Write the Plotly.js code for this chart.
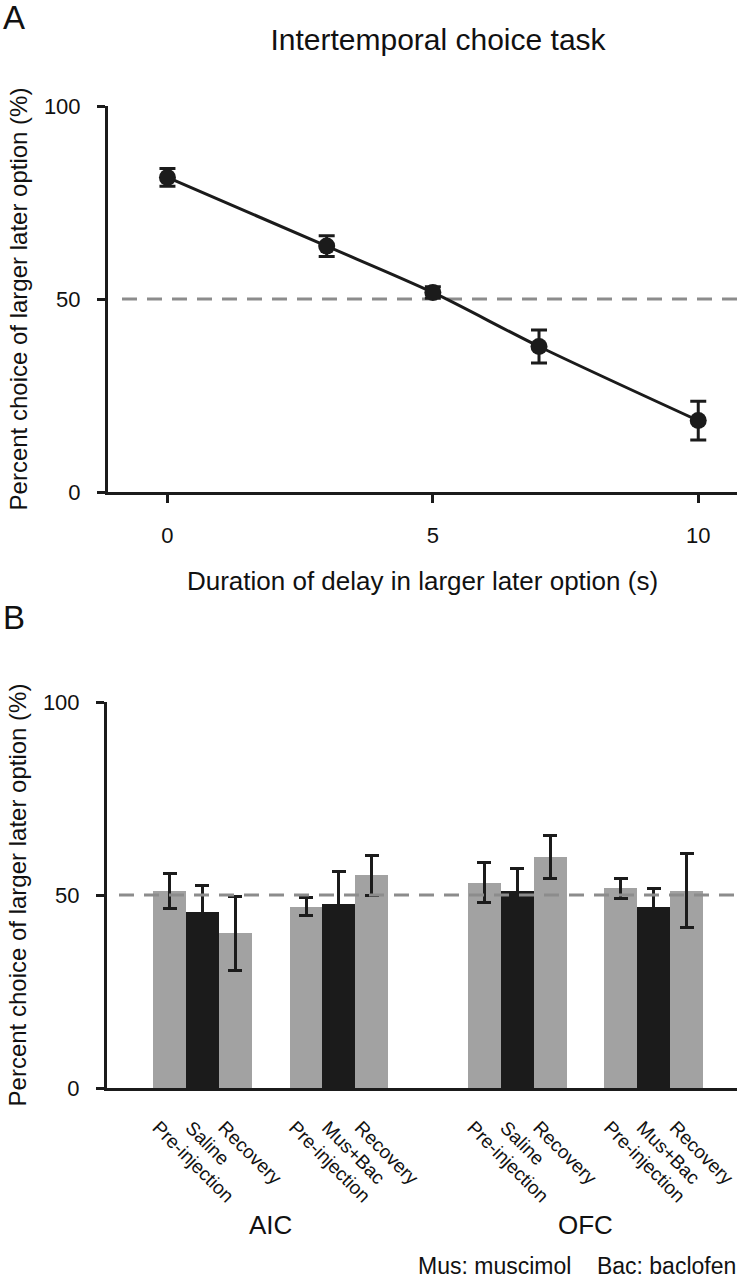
<!DOCTYPE html>
<html>
<head>
<meta charset="utf-8">
<script src="https://cdn.plot.ly/plotly-3.0.1.min.js"></script>
<style>html,body{margin:0;padding:0;background:#fff;}#chart{width:739px;height:1280px;}</style>
</head>
<body>
<div id="chart"></div>
<script>
// Panel A data
const delays = [0, 3, 5, 7, 10];
const choiceMean = [81.5, 63.7, 51.7, 37.7, 18.5];
const choiceErr = [2.3, 2.7, 1.5, 4.3, 5.0];
const delayTicks = [0, 5, 10];

// Panel B data
const regionLabels = ['AIC', 'OFC'];
const condLabels = [
  ['Pre-injection', 'Saline', 'Recovery'],
  ['Pre-injection', 'Mus+Bac', 'Recovery'],
  ['Pre-injection', 'Saline', 'Recovery'],
  ['Pre-injection', 'Mus+Bac', 'Recovery']
];
const barMeans = [
  [51.1, 45.6, 40.1],
  [47.0, 47.6, 55.1],
  [53.2, 51.1, 59.9],
  [51.7, 47.0, 51.1]
];
const barErrs = [
  [4.5, 6.8, 9.6],
  [2.4, 8.4, 5.1],
  [5.1, 5.8, 5.5],
  [2.7, 4.8, 9.6]
];
const yTicks = [0, 50, 100];
const footnote = 'Mus: muscimol\u00a0\u00a0\u00a0\u00a0Bac: baclofen';

const FONT = 'Liberation Sans, Arial, Helvetica, sans-serif';
const GRAY = '#a2a2a2', BLACK = '#1b1b1b', DASH = '#8c8c8c', TXT = '#111';
const W = 739, H = 1280;
const px = v => v / W;
const py = v => 1 - v / H;

// group placement (layout)
const groupStart = [0, 4.15, 9.57, 13.72];
const LABEL_SHIFT = -0.35;
const xs = [], ys = [], es = [], cols = [], tlab = [], tpos = [];
groupStart.forEach((g, gi) => {
  for (let i = 0; i < 3; i++) {
    xs.push(g + i);
    tpos.push(g + i + LABEL_SHIFT);
    ys.push(barMeans[gi][i]);
    es.push(barErrs[gi][i]);
    cols.push(i === 1 ? BLACK : GRAY);
    tlab.push(condLabels[gi][i]);
  }
});

const traces = [
  {
    x: delays, y: choiceMean, type: 'scatter', mode: 'lines',
    line: {color: BLACK, width: 3, shape: 'spline', smoothing: 0.8},
    xaxis: 'x', yaxis: 'y', hoverinfo: 'skip', showlegend: false
  },
  {
    x: delays, y: choiceMean, type: 'scatter', mode: 'markers',
    marker: {color: BLACK, size: 17},
    error_y: {type: 'data', array: choiceErr, visible: true, color: BLACK, thickness: 3, width: 8},
    xaxis: 'x', yaxis: 'y', showlegend: false
  },
  {
    x: xs, y: ys, type: 'bar', width: 1,
    marker: {color: cols, line: {width: 0}},
    error_y: {type: 'data', array: es, visible: true, color: BLACK, thickness: 3, width: 7},
    xaxis: 'x2', yaxis: 'y2', showlegend: false
  }
];

const axisCommon = {
  showgrid: false, zeroline: false, showline: true, linecolor: BLACK, linewidth: 3,
  ticks: 'outside', ticklen: 8, tickwidth: 3, tickcolor: BLACK,
  ticklabeloverflow: 'allow',
  tickfont: {family: FONT, size: 22, color: TXT}
};

const groupCenters = [0, 1].map(r => (groupStart[r * 2] + 1 + groupStart[r * 2 + 1] + 1) / 2);
const yTitleFont = {family: FONT, size: 24, color: TXT};

const layout = {
  width: W, height: H,
  margin: {l: 0, r: 0, t: 0, b: 0},
  paper_bgcolor: '#fff', plot_bgcolor: '#fff',
  showlegend: false,
  bargap: 0,
  title: {
    text: 'Intertemporal choice task',
    font: {family: FONT, size: 30, color: TXT},
    x: px(438), xanchor: 'center', y: py(39), yanchor: 'middle'
  },
  xaxis: Object.assign({}, axisCommon, {
    domain: [px(108), px(737)], range: [-1.12, 10.73],
    tickvals: delayTicks, ticktext: delayTicks.map(String), anchor: 'y',
    ticklabelstandoff: 14,
    title: {text: 'Duration of delay in larger later option (s)', font: {family: FONT, size: 26, color: TXT}, standoff: 25}
  }),
  yaxis: Object.assign({}, axisCommon, {
    domain: [py(492), py(106)], range: [0, 100],
    tickvals: yTicks, ticktext: yTicks.map(String), anchor: 'x',
    ticklabelstandoff: 12,
    title: {text: 'Percent choice of larger later option (%)', font: yTitleFont, standoff: 10}
  }),
  xaxis2: Object.assign({}, axisCommon, {
    domain: [px(107), px(737)], range: [-1.9, 17.25],
    tickvals: tpos, ticktext: tlab, ticks: '', tickangle: 45,
    ticklabelstandoff: 18,
    tickfont: {family: FONT, size: 19, color: TXT}, anchor: 'y2'
  }),
  yaxis2: Object.assign({}, axisCommon, {
    domain: [py(1088), py(702)], range: [0, 100],
    tickvals: yTicks, ticktext: yTicks.map(String), anchor: 'x2',
    ticklabelstandoff: 12,
    title: {text: 'Percent choice of larger later option (%)', font: yTitleFont, standoff: 10}
  }),
  shapes: [
    {type: 'line', xref: 'paper', yref: 'y', x0: px(122), x1: px(737), y0: 50, y1: 50,
     line: {color: DASH, width: 3, dash: '15px,10px'}, layer: 'below'},
    {type: 'line', xref: 'paper', yref: 'y2', x0: px(119), x1: px(737), y0: 50, y1: 50,
     line: {color: DASH, width: 3, dash: '15px,10px'}, layer: 'above'}
  ],
  annotations: [
    {text: 'A', xref: 'paper', yref: 'paper', x: px(1), y: py(17), xanchor: 'left', yanchor: 'middle', showarrow: false,
     font: {family: FONT, size: 33, color: TXT}},
    {text: 'B', xref: 'paper', yref: 'paper', x: px(1), y: py(617), xanchor: 'left', yanchor: 'middle', showarrow: false,
     font: {family: FONT, size: 33, color: TXT}},
    {text: regionLabels[0], xref: 'x2', yref: 'paper', x: groupCenters[0], y: py(1225), xanchor: 'center', yanchor: 'middle', showarrow: false,
     font: {family: FONT, size: 26, color: TXT}},
    {text: regionLabels[1], xref: 'x2', yref: 'paper', x: groupCenters[1], y: py(1225), xanchor: 'center', yanchor: 'middle', showarrow: false,
     font: {family: FONT, size: 26, color: TXT}},
    {text: footnote, xref: 'paper', yref: 'paper', x: px(738), y: py(1266), xanchor: 'right', yanchor: 'middle', showarrow: false,
     font: {family: FONT, size: 23, color: TXT}}
  ]
};

Plotly.newPlot('chart', traces, layout, {staticPlot: true, displayModeBar: false});
</script>
</body>
</html>
